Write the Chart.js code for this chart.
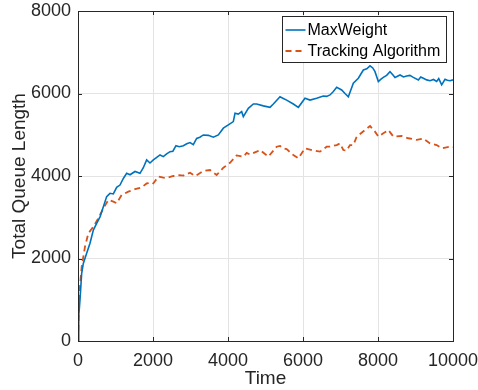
<!DOCTYPE html>
<html>
<head>
<meta charset="utf-8">
<script src="https://cdn.jsdelivr.net/npm/chart.js@4/dist/chart.umd.min.js"></script>
<style>
  html, body { margin: 0; padding: 0; background: #fff; }
</style>
</head>
<body>
<canvas id="queue-chart" width="478" height="390"></canvas>
<script>
// Longueur totale de file d'attente en fonction du temps
var tempsMW = [0, 20, 53, 98, 142, 231, 320, 409, 498, 587, 676, 764, 853, 942, 1031, 1120, 1209, 1298, 1387, 1520, 1653, 1742, 1831, 1920, 2009, 2100, 2187, 2275, 2364, 2453, 2530, 2613, 2700, 2809, 2900, 2987, 3075, 3164, 3250, 3342, 3476, 3609, 3742, 3876, 4009, 4142, 4187, 4275, 4364, 4409, 4542, 4676, 4764, 4942, 5120, 5209, 5387, 5475, 5564, 5742, 5876, 6053, 6187, 6364, 6542, 6630, 6720, 6810, 6898, 7031, 7120, 7209, 7342, 7476, 7609, 7700, 7787, 7860, 7920, 8009, 8080, 8142, 8230, 8320, 8400, 8453, 8520, 8587, 8680, 8764, 8850, 8942, 9076, 9140, 9209, 9300, 9387, 9480, 9564, 9620, 9698, 9787, 9850, 9920, 10000];
var maxWeight = [0, 600, 1000, 1640, 1880, 2125, 2370, 2690, 2850, 3010, 3256, 3500, 3580, 3565, 3725, 3780, 3940, 4065, 4030, 4110, 4065, 4200, 4390, 4315, 4390, 4450, 4510, 4470, 4535, 4590, 4600, 4735, 4710, 4735, 4780, 4810, 4760, 4910, 4940, 4995, 4985, 4940, 4995, 5160, 5240, 5320, 5520, 5500, 5560, 5440, 5640, 5745, 5745, 5700, 5665, 5745, 5920, 5880, 5840, 5745, 5665, 5885, 5840, 5885, 5940, 5930, 5965, 6050, 6150, 6085, 6000, 5920, 6250, 6370, 6570, 6600, 6670, 6620, 6530, 6290, 6350, 6390, 6440, 6530, 6450, 6390, 6420, 6450, 6400, 6425, 6440, 6390, 6330, 6400, 6370, 6330, 6310, 6340, 6290, 6360, 6210, 6345, 6320, 6310, 6330];

var tempsTA = [0, 36, 98, 187, 276, 409, 542, 676, 809, 942, 1031, 1164, 1342, 1520, 1698, 1831, 1964, 2009, 2142, 2275, 2364, 2542, 2700, 2809, 2987, 3120, 3164, 3342, 3520, 3698, 3876, 4053, 4231, 4409, 4498, 4587, 4764, 4853, 5031, 5076, 5298, 5387, 5476, 5564, 5742, 5876, 6053, 6276, 6453, 6631, 6720, 6898, 6987, 7076, 7164, 7253, 7342, 7431, 7653, 7787, 7920, 8009, 8142, 8276, 8409, 8631, 8809, 9031, 9209, 9387, 9564, 9698, 9920, 10000];
var tracking = [0, 1160, 1800, 2290, 2610, 2770, 2975, 3215, 3420, 3380, 3340, 3540, 3620, 3680, 3725, 3820, 3845, 3820, 3985, 3960, 3950, 4000, 4020, 4010, 4080, 4000, 4020, 4120, 4145, 4025, 4200, 4320, 4500, 4470, 4560, 4520, 4590, 4630, 4500, 4470, 4710, 4730, 4670, 4650, 4510, 4430, 4670, 4620, 4590, 4710, 4710, 4750, 4790, 4630, 4614, 4750, 4750, 4950, 5115, 5210, 5075, 4955, 5035, 5115, 4955, 4970, 4915, 4875, 4910, 4790, 4750, 4670, 4710, 4700];

var ticksX = [0, 2000, 4000, 6000, 8000, 10000];
var ticksY = [0, 2000, 4000, 6000, 8000];

function points(xs, ys) {
  return xs.map(function (x, i) { return { x: x, y: ys[i] }; });
}

var police = "'Liberation Sans', Arial, sans-serif";
var gris = '#262626';

// cadre complet, graduations vers l'intérieur et légende façon MATLAB
var cadre = {
  id: 'cadre',
  afterDatasetsDraw: function (chart) {
    var ctx = chart.ctx, a = chart.chartArea;
    var sx = chart.scales.x, sy = chart.scales.y;
    ctx.save();
    ctx.strokeStyle = gris;
    ctx.lineWidth = 1;
    ctx.strokeRect(Math.round(a.left) + 0.5, Math.round(a.top) + 0.5,
      Math.round(a.right - a.left), Math.round(a.bottom - a.top));
    ctx.beginPath();
    ticksX.forEach(function (v) {
      var px = Math.round(sx.getPixelForValue(v)) + 0.5;
      ctx.moveTo(px, a.bottom); ctx.lineTo(px, a.bottom - 4);
      ctx.moveTo(px, a.top); ctx.lineTo(px, a.top + 4);
    });
    ticksY.forEach(function (v) {
      var py = Math.round(sy.getPixelForValue(v)) + 0.5;
      ctx.moveTo(a.left, py); ctx.lineTo(a.left + 4, py);
      ctx.moveTo(a.right, py); ctx.lineTo(a.right - 4, py);
    });
    ctx.stroke();

    // légende
    var bx = Math.round(a.right) - 170.5, by = Math.round(a.top) + 5.5, bw = 164, bh = 46;
    ctx.fillStyle = '#fff';
    ctx.fillRect(bx, by, bw, bh);
    ctx.strokeRect(bx, by, bw, bh);
    ctx.font = '16px ' + police;
    ctx.textBaseline = 'middle';
    chart.data.datasets.forEach(function (ds, i) {
      var y = by + 13.5 + i * 21;
      ctx.strokeStyle = ds.borderColor;
      ctx.lineWidth = ds.borderWidth;
      ctx.setLineDash(ds.borderDash || []);
      ctx.beginPath();
      ctx.moveTo(bx + 3, y); ctx.lineTo(bx + 23, y);
      ctx.stroke();
      ctx.setLineDash([]);
      ctx.fillStyle = '#000';
      ctx.fillText(ds.label, bx + 25, y + 1);
    });
    ctx.restore();
  }
};

var ctx = document.getElementById('queue-chart').getContext('2d');
var queueChart = new Chart(ctx, {
  type: 'line',
  data: {
    datasets: [{
      label: 'MaxWeight',
      data: points(tempsMW, maxWeight),
      borderColor: '#0072BD',
      borderWidth: 1.6,
      pointRadius: 0,
      tension: 0
    }, {
      label: 'Tracking Algorithm',
      data: points(tempsTA, tracking),
      borderColor: '#D95319',
      borderWidth: 1.8,
      borderDash: [6, 4],
      pointRadius: 0,
      tension: 0
    }]
  },
  options: {
    responsive: false,
    animation: false,
    layout: { padding: { top: 11, right: 25, bottom: 0, left: 0 } },
    plugins: {
      legend: { display: false },
      tooltip: { enabled: false }
    },
    scales: {
      x: {
        type: 'linear',
        min: 0,
        max: 10000,
        afterBuildTicks: function (scale) {
          scale.ticks = ticksX.map(function (v) { return { value: v }; });
        },
        afterFit: function (scale) {
          scale.height = 49;
          scale.paddingLeft = 0;
          scale.paddingRight = 0;
        },
        ticks: {
          color: gris, font: { family: police, size: 18 }, padding: 9, maxRotation: 0,
          callback: function (v) { return String(v); }
        },
        grid: { color: '#e3e3e3', drawTicks: false },
        border: { display: false },
        title: {
          display: true,
          text: 'Time',
          color: gris,
          font: { family: police, size: 19 },
          padding: { top: 0, bottom: 0 }
        }
      },
      y: {
        min: 0,
        max: 8000,
        afterBuildTicks: function (scale) {
          scale.ticks = ticksY.map(function (v) { return { value: v }; });
        },
        afterFit: function (scale) {
          scale.width = 78;
          scale.paddingTop = 0;
          scale.paddingBottom = 0;
        },
        ticks: {
          color: gris, font: { family: police, size: 18 }, padding: 7,
          callback: function (v) { return String(v); }
        },
        grid: { color: '#e3e3e3', drawTicks: false },
        border: { display: false },
        title: {
          display: true,
          text: 'Total Queue Length',
          color: gris,
          font: { family: police, size: 19 },
          padding: { top: 8, bottom: 0 }
        }
      }
    }
  },
  plugins: [cadre]
});
</script>
</body>
</html>
